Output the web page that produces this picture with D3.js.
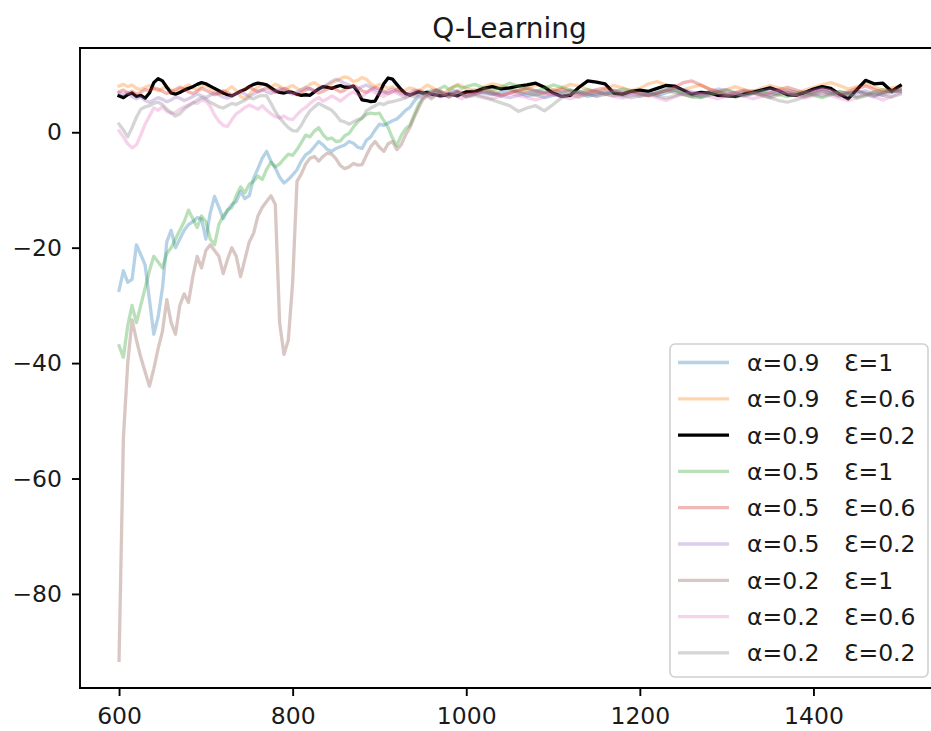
<!DOCTYPE html>
<html>
<head>
<meta charset="utf-8">
<script src="https://cdn.jsdelivr.net/npm/d3@7"></script>
<style>
  html, body { margin: 0; padding: 0; background: #fff; overflow: hidden; }
  svg { display: block; font-family: "DejaVu Sans", sans-serif; }
  .legend text { white-space: pre; }
</style>
</head>
<body>
<svg id="chart" width="931" height="731"></svg>
<script>
// Episode grid: every 5 episodes up to 1000, every 10 afterwards
const episodes = d3.range(600, 1001, 5).concat(d3.range(1010, 1501, 10));

// Smoothed return per episode for each (alpha, epsilon) run
const a09e1 = [
  -27.4, -24.0, -26.0, -25.5, -19.5, -21.2, -23.0, -29.0, -35.0, -32.0,
  -27.0, -19.0, -17.0, -20.0, -18.5, -17.0, -16.0, -15.5, -14.8, -15.0,
  -18.5, -14.0, -11.1, -13.0, -15.0, -13.5, -12.5, -12.0, -10.3, -11.5,
  -11.0, -8.0, -6.3, -4.5, -3.3, -5.0, -6.2, -7.8, -8.8, -8.2,
  -7.4, -6.5, -5.0, -3.9, -3.4, -2.5, -1.6, -2.2, -3.0, -3.3,
  -2.8, -2.5, -2.2, -1.6, -1.9, -2.6, -2.8, -1.4, -0.8, 0.4,
  1.4, 1.2, 1.6, 2.0, 2.3, 3.0, 3.8, 4.3, 5.4, 6.2,
  6.6, 7.1, 6.8, 7.3, 6.9, 6.4, 6.7, 7.2, 7.0, 6.6,
  6.9,
  7.3, 6.8, 6.5, 7.0, 7.4, 6.9, 6.3, 6.6, 6.0, 6.4,
  6.9, 7.3, 6.8, 6.2, 6.6, 7.1, 6.7, 6.3, 6.8, 7.2,
  6.9, 6.4, 6.8, 7.3, 7.0, 6.5, 6.2, 6.7, 7.1, 6.6,
  6.2, 6.7, 7.2, 6.9, 6.4, 6.8, 7.3, 6.9, 6.5, 6.9,
  7.2, 6.8, 6.3, 6.7, 7.1, 6.6, 6.2, 6.8, 7.2, 7.0
];
const a09e06 = [
  8.0, 8.3, 7.9, 8.2, 7.6, 7.4, 7.8, 8.1, 7.5, 7.2,
  7.6, 7.9, 7.3, 7.0, 7.5, 7.8, 8.2, 7.7, 7.4, 7.9,
  8.1, 7.6, 7.0, 6.6, 6.9, 7.4, 7.9, 7.2, 6.2, 5.8,
  6.5, 7.3, 7.8, 8.4, 8.2, 7.9, 8.3, 8.0, 7.4, 7.8,
  8.1, 7.6, 7.2, 7.7, 8.3, 8.6, 8.1, 7.7, 8.2, 8.5,
  8.9, 9.3, 9.6, 9.4, 8.8, 9.0, 9.5, 9.2, 8.4, 7.9,
  8.3, 8.0, 7.6, 7.9, 7.4, 7.0, 7.3, 7.7, 7.5, 7.1,
  7.6, 8.2, 7.8, 7.3, 7.0, 6.8, 7.4, 7.9, 8.3, 8.0,
  7.6,
  7.2, 7.8, 8.4, 8.1, 7.5, 7.0, 7.6, 8.2, 7.9, 7.3,
  7.7, 8.3, 8.0, 7.4, 6.9, 7.5, 8.1, 7.7, 7.2, 7.6,
  8.4, 8.8, 8.2, 7.6, 7.3, 7.8, 8.2, 7.5, 7.1, 7.4,
  7.9, 7.4, 7.0, 7.6, 8.1, 7.7, 7.2, 6.8, 7.3, 7.8,
  8.2, 8.6, 8.1, 7.5, 7.9, 8.4, 7.8, 7.3, 7.7, 8.0
];
const a09e02 = [
  6.3, 6.0, 6.5, 6.8, 6.2, 6.4, 5.9, 6.8, 8.6, 9.3,
  8.9, 7.8, 6.8, 6.6, 6.9, 7.3, 7.6, 7.9, 8.3, 8.6,
  8.4, 8.0, 7.6, 7.2, 6.8, 6.5, 6.3, 6.7, 7.1, 7.4,
  7.9, 8.3, 8.5, 8.4, 8.2, 7.7, 7.2, 6.9, 6.8, 7.0,
  6.9, 6.6, 6.4, 6.5, 6.4, 7.0, 7.5, 7.9, 7.8, 7.6,
  7.9, 8.1, 7.8, 7.8, 8.0, 7.0, 5.6, 5.5, 5.3, 5.4,
  6.8, 8.4, 9.4, 9.2, 8.3, 7.4, 6.7, 6.4, 6.7, 7.0,
  6.8, 6.9, 6.6, 6.5, 6.3, 6.4, 6.6, 6.5, 6.3, 6.7,
  7.0,
  7.0, 7.6, 7.9, 7.5, 7.7, 8.0, 8.2, 8.5, 7.8, 6.8,
  6.2, 6.4, 7.8, 8.9, 8.7, 8.4, 6.8, 6.6, 7.1, 7.3,
  7.1, 7.6, 8.1, 8.0, 7.3, 6.6, 6.9, 6.8, 6.4, 6.3,
  6.2, 6.6, 6.9, 7.3, 7.7, 7.2, 6.5, 6.4, 6.9, 7.5,
  7.9, 7.6, 6.6, 5.8, 7.4, 9.0, 8.4, 8.5, 7.1, 8.1
];
const a05e1 = [
  -37.0, -39.0, -33.5, -30.0, -33.0, -30.0, -27.0, -24.0, -21.5, -22.5,
  -23.5, -21.0, -20.0, -18.5, -17.0, -15.5, -13.5, -15.0, -16.5, -14.5,
  -15.5, -18.5, -19.5, -16.0, -14.5, -13.5, -13.0, -11.0, -9.5, -10.5,
  -9.0, -8.5, -7.6, -8.2, -6.4, -5.2, -6.0, -5.5, -4.6, -3.8,
  -4.0, -3.0, -1.8, -0.5, -0.8, 0.2, 0.8, -0.4, -1.2, -1.0,
  -1.6, -1.5, -0.6, -0.2, 0.9, 1.8, 2.5, 3.1, 3.3, 3.2,
  3.3, 2.0, 0.8, -1.0, -2.3, -0.6, 0.6, 1.2, 3.0, 4.8,
  6.0, 6.8, 7.3, 7.0, 7.6, 8.0, 7.4, 7.8, 8.1, 7.6,
  7.9,
  8.3, 7.7, 7.2, 7.8, 8.5, 8.0, 7.4, 7.0, 7.6, 8.2,
  7.8, 7.3, 6.9, 7.4, 7.1, 6.6, 7.0, 7.5, 7.2, 6.7,
  6.4, 6.9, 7.5, 7.3, 6.6, 6.1, 6.0, 6.5, 7.0, 7.4,
  6.8, 6.3, 6.7, 7.2, 6.9, 6.5, 6.2, 6.6, 7.0, 6.4,
  6.0, 6.5, 7.1, 6.8, 5.9, 6.3, 7.0, 7.4, 6.9, 7.3
];
const a05e06 = [
  7.0, 7.3, 6.8, 7.1, 6.6, 6.9, 7.4, 7.2, 7.7, 7.5,
  7.1, 6.7, 7.0, 7.4, 7.8, 7.5, 7.0, 6.7, 7.1, 7.6,
  7.3, 6.9, 6.5, 6.8, 7.2, 6.9, 6.4, 6.7, 7.1, 7.5,
  7.8, 7.4, 7.0, 7.3, 7.7, 7.4, 6.9, 7.2, 7.6, 7.3,
  6.8, 6.5, 6.9, 7.3, 7.6, 7.2, 6.8, 7.1, 7.5, 7.8,
  7.4, 7.0, 7.3, 7.8, 8.1, 7.7, 7.2, 6.9, 7.4, 7.8,
  7.5, 7.1, 6.7, 7.0, 7.4, 7.2, 6.8, 6.5, 6.9, 7.3,
  7.0, 6.6, 6.9, 7.4, 7.1, 6.7, 6.4, 6.8, 7.2, 6.9,
  6.6,
  6.9, 7.4, 7.0, 6.5, 6.8, 7.3, 7.7, 7.2, 6.7, 7.0,
  7.5, 7.1, 6.6, 6.9, 7.4, 7.7, 7.2, 6.8, 7.1, 6.6,
  6.3, 6.7, 7.2, 7.8, 8.6, 8.9, 8.2, 7.5, 7.0, 6.6,
  6.9, 7.3, 7.0, 6.5, 6.8, 7.4, 7.8, 7.3, 6.8, 7.1,
  7.5, 7.2, 6.7, 7.0, 7.6, 8.0, 7.4, 6.9, 7.3, 7.6
];
const a05e02 = [
  6.8, 6.5, 6.9, 6.2, 5.8, 6.1, 5.5, 5.2, 5.6, 6.0,
  5.7, 5.3, 5.6, 6.1, 5.9, 5.5, 5.8, 6.2, 6.6, 6.3,
  6.0, 6.4, 6.8, 6.5, 6.1, 5.9, 6.3, 6.7, 7.0, 6.6,
  6.2, 6.6, 7.1, 7.4, 7.0, 6.7, 7.2, 7.6, 7.3, 6.9,
  6.6, 7.0, 7.4, 7.8, 7.5, 7.1, 7.5, 7.9, 8.3, 8.8,
  9.2, 8.9, 8.5, 8.2, 7.8, 7.5, 7.9, 8.2, 7.8, 7.4,
  7.1, 6.8, 7.2, 7.5, 7.1, 6.7, 6.5, 6.9, 7.3, 7.0,
  6.6, 6.3, 6.7, 7.1, 6.8, 6.4, 6.1, 6.5, 6.9, 6.6,
  6.3,
  6.6, 7.0, 6.7, 6.3, 6.0, 6.4, 6.8, 7.2, 6.9, 6.5,
  6.2, 6.6, 7.0, 6.7, 6.3, 6.8, 7.3, 7.0, 6.6, 6.2,
  6.5, 6.9, 7.3, 7.7, 7.4, 6.9, 6.6, 7.0, 7.5, 7.2,
  6.8, 6.4, 6.7, 7.1, 7.5, 7.2, 6.8, 6.5, 6.9, 7.3,
  7.6, 7.2, 6.6, 6.3, 6.8, 7.2, 6.7, 6.4, 6.9, 7.4
];
const a02e1 = [
  -91.5, -53.0, -40.0, -32.5, -36.0, -39.0, -41.5, -44.0, -41.0, -37.5,
  -34.5, -29.0, -33.0, -35.0, -30.0, -28.0, -29.5, -25.0, -21.5, -23.5,
  -20.5, -19.5, -20.5, -21.5, -24.5, -22.0, -20.0, -21.5, -25.0, -22.0,
  -19.0, -17.5, -14.5, -13.0, -12.0, -11.0, -12.5, -33.0, -38.5, -36.0,
  -26.0, -8.5, -7.2, -5.5, -4.5, -4.2, -5.0, -4.2, -3.6, -3.8,
  -4.6, -5.8, -6.3, -6.0, -5.4, -5.7, -5.6, -4.0, -2.5, -1.6,
  -2.6, -3.3, -2.0, -1.6, -3.0, -2.2, -0.5, 0.8, 2.6, 4.2,
  5.7, 6.3, 5.8, 6.4, 6.9, 6.5, 6.1, 6.6, 7.0, 6.5,
  6.2,
  6.6, 7.1, 6.7, 6.3, 6.8, 7.2, 6.8, 6.4, 6.9, 7.3,
  6.9, 6.5, 6.1, 6.6, 7.0, 6.6, 6.3, 6.7, 7.1, 6.8,
  6.4, 6.8, 7.2, 6.9, 6.5, 6.2, 6.6, 7.0, 6.7, 6.3,
  6.7, 7.1, 6.8, 6.4, 6.0, 6.5, 6.9, 6.6, 6.2, 6.6,
  7.0, 6.7, 6.3, 6.8, 7.2, 6.8, 6.4, 6.9, 7.3, 7.1
];
const a02e06 = [
  0.2, -0.8, -2.0, -2.7, -2.2, -0.5, 1.4, 2.8, 4.2, 3.8,
  4.4, 3.6, 3.3, 3.4, 4.0, 4.4, 4.7, 5.2, 5.0, 5.6,
  5.4, 4.5, 3.0, 1.9, 1.2, 1.0, 2.2, 3.2, 3.7, 4.3,
  4.7, 4.4, 4.0, 4.6, 3.8, 3.2, 2.7, 2.5, 2.8, 2.3,
  2.2, 3.0, 3.8, 4.3, 5.0, 5.6, 6.0, 5.4, 5.8, 6.3,
  5.9, 5.4, 6.0, 6.6, 7.0, 6.5, 6.2, 6.8, 7.3, 6.9,
  6.5, 6.2, 6.7, 7.1, 6.8, 6.4, 6.0, 6.3, 6.7, 6.2,
  5.9, 6.4, 6.9, 6.5, 6.1, 6.6, 7.0, 6.6, 6.2, 5.8,
  6.3,
  6.7, 6.2, 5.8, 6.3, 6.8, 6.4, 6.0, 5.6, 6.1, 6.6,
  6.2, 5.8, 6.3, 6.8, 7.2, 6.7, 6.2, 5.9, 6.4, 6.8,
  6.5, 6.0, 5.5, 6.1, 6.6, 7.0, 6.6, 6.2, 5.8, 6.3,
  6.7, 6.3, 5.8, 6.2, 6.7, 7.1, 6.8, 6.3, 5.9, 6.4,
  6.8, 6.4, 5.9, 5.5, 6.0, 6.5, 6.1, 5.6, 6.2, 6.9
];
const a02e02 = [
  1.4, 0.4, -0.8, 0.8, 2.6, 4.0, 4.4, 4.6, 5.0, 5.2,
  4.8, 4.0, 3.4, 2.8, 3.2, 4.0, 4.6, 5.0, 5.6, 6.0,
  5.8, 5.2, 4.8, 4.4, 4.2, 4.6, 5.0, 4.8, 5.2, 5.6,
  6.0, 5.8, 6.2, 6.4, 6.3, 5.0, 3.6, 2.5, 1.6, 0.8,
  0.3, 0.2, 1.2, 2.6, 3.7, 4.4, 5.0, 4.6, 4.2, 3.8,
  3.0, 2.0, 1.8, 1.4, 1.8, 2.2, 2.4, 3.7, 4.2, 4.6,
  5.0, 4.8, 5.2, 5.3, 5.5, 5.7, 6.0, 6.4, 6.1, 6.6,
  6.9, 6.5, 6.2, 6.6, 7.1, 6.8, 6.4, 6.7, 7.0, 6.5,
  6.1,
  6.4, 6.0, 5.6, 5.1, 4.6, 3.6, 4.2, 4.6, 3.7, 4.8,
  6.0, 6.6, 7.0, 6.6, 6.2, 6.5, 6.9, 6.4, 6.0, 6.3,
  6.7, 6.3, 5.9, 6.3, 6.8, 6.5, 6.1, 6.4, 6.8, 6.5,
  6.1, 6.4, 6.8, 6.5, 6.0, 5.5, 5.2, 5.6, 6.2, 6.6,
  6.3, 6.7, 7.0, 6.6, 6.2, 6.5, 6.9, 6.4, 6.1, 6.6
];

const seriesValues = [a09e1, a09e06, a09e02, a05e1, a05e06, a05e02, a02e1, a02e06, a02e02];
const seriesLabels = [
  ["α=0.9", "Ɛ=1"], ["α=0.9", "Ɛ=0.6"], ["α=0.9", "Ɛ=0.2"],
  ["α=0.5", "Ɛ=1"], ["α=0.5", "Ɛ=0.6"], ["α=0.5", "Ɛ=0.2"],
  ["α=0.2", "Ɛ=1"], ["α=0.2", "Ɛ=0.6"], ["α=0.2", "Ɛ=0.2"]
];
const seriesColors = ["#1f77b4", "#ff7f0e", "#000000", "#2ca02c", "#d62728",
                      "#9467bd", "#8c564b", "#e377c2", "#7f7f7f"];
const seriesAlpha = [0.33, 0.33, 1, 0.33, 0.33, 0.33, 0.33, 0.33, 0.33];

const xTicks = [600, 800, 1000, 1200, 1400];
const yTicks = [0, -20, -40, -60, -80];
const titleText = "Q-Learning";

// Plot frame in pixels (the right edge runs past the page)
const frameL = 80, frameR = 939.3, frameT = 48, frameB = 688;
const svg = d3.select("#chart");

const x = d3.scaleLinear().domain([555, 1545]).range([frameL, frameR]);
const y = d3.scaleLinear().domain([-96.3, 14.6]).range([frameB, frameT]);

svg.append("defs").append("clipPath").attr("id", "plot-clip")
  .append("rect").attr("x", frameL).attr("y", frameT)
  .attr("width", frameR - frameL).attr("height", frameB - frameT);

const line = d3.line()
  .x((d, i) => x(episodes[i]))
  .y(d => y(d));

const lineW = 3.3;
const plot = svg.append("g").attr("clip-path", "url(#plot-clip)");
seriesValues.forEach((vals, k) => {
  const n = Math.min(vals.length, episodes.length);
  plot.append("path")
    .datum(vals.slice(0, n))
    .attr("fill", "none")
    .attr("stroke", seriesColors[k])
    .attr("stroke-opacity", seriesAlpha[k])
    .attr("stroke-width", lineW)
    .attr("stroke-linejoin", "round")
    .attr("stroke-linecap", "square")
    .attr("d", line);
});

// Axes
const fontSize = 23.5;
const textColor = "#1a1a1a";
const xAxis = svg.append("g").attr("transform", `translate(0,${frameB})`)
  .call(d3.axisBottom(x).tickValues(xTicks).tickSize(8).tickPadding(11).tickFormat(d3.format("d")));
const yAxis = svg.append("g").attr("transform", `translate(${frameL},0)`)
  .call(d3.axisLeft(y).tickValues(yTicks).tickSize(8).tickPadding(10));
[xAxis, yAxis].forEach(g => {
  g.select(".domain").remove();
  g.selectAll(".tick line").attr("stroke", "#000").attr("stroke-width", 1.9);
  g.selectAll(".tick text").attr("fill", textColor)
    .style("font-family", "DejaVu Sans").style("font-size", fontSize + "px");
});

// Spines: left, top, bottom (the right one lies beyond the page edge)
const spines = svg.append("g").attr("stroke", "#000").attr("stroke-width", 1.9)
  .attr("stroke-linecap", "square");
spines.append("line").attr("x1", frameL).attr("x2", frameL).attr("y1", frameT).attr("y2", frameB);
spines.append("line").attr("x1", frameL).attr("x2", frameR).attr("y1", frameT).attr("y2", frameT);
spines.append("line").attr("x1", frameL).attr("x2", frameR).attr("y1", frameB).attr("y2", frameB);

// Title
svg.append("text").attr("x", 509.5).attr("y", 38)
  .attr("text-anchor", "middle").attr("fill", textColor)
  .style("font-size", "28px").text(titleText);

// Legend
const lg = svg.append("g").attr("class", "legend");
const lx = 670, ly = 344, lw = 258, lh = 333, rowH = 36.3;
lg.append("rect").attr("x", lx).attr("y", ly).attr("width", lw).attr("height", lh)
  .attr("rx", 5).attr("fill", "#fff").attr("fill-opacity", 0.8)
  .attr("stroke", "#d0d0d0").attr("stroke-width", 1.6);
seriesLabels.forEach((lab, k) => {
  const cy = ly + 18.5 + k * rowH;
  lg.append("line").attr("x1", 678).attr("x2", 729).attr("y1", cy).attr("y2", cy)
    .attr("stroke", seriesColors[k]).attr("stroke-opacity", seriesAlpha[k])
    .attr("stroke-width", lineW);
  const t = lg.append("text").attr("y", cy).attr("dy", "0.36em")
    .attr("fill", textColor).style("font-size", fontSize + "px");
  t.append("tspan").attr("x", 747).text(lab[0]);
  t.append("tspan").attr("x", 844).text(lab[1]);
});
</script>
</body>
</html>
